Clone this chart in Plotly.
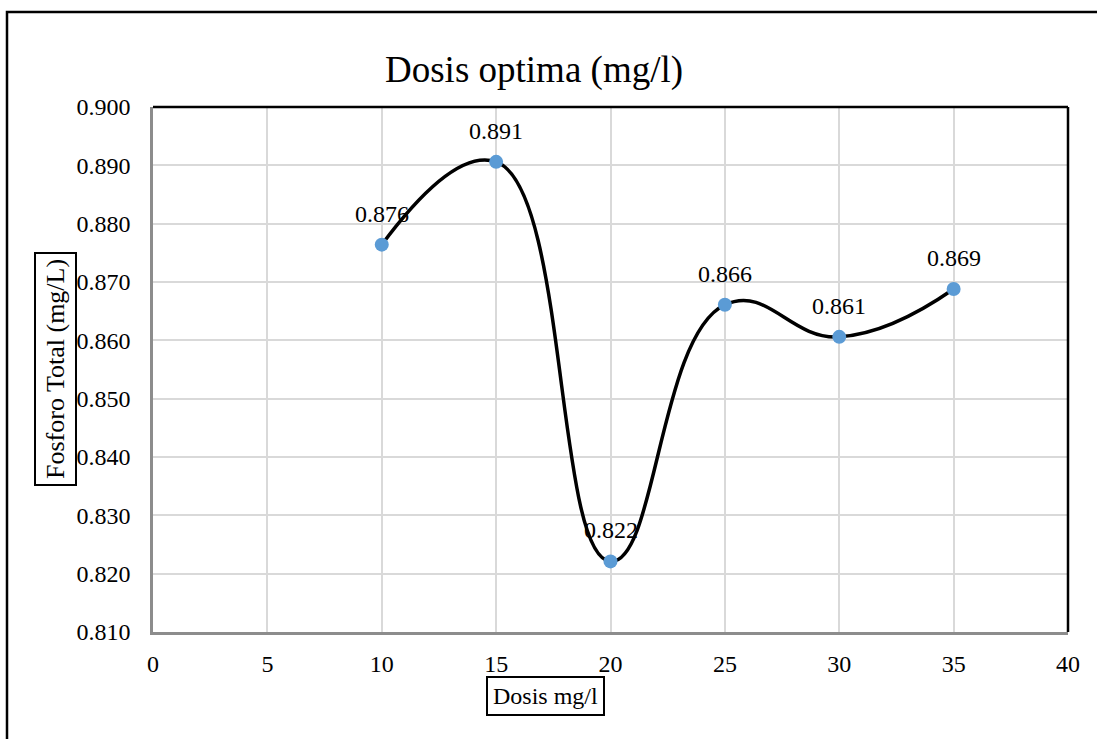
import plotly.graph_objects as go

# Data
dosis = [10, 15, 20, 25, 30, 35]
fosforo = [0.8764, 0.8906, 0.8221, 0.8661, 0.8606, 0.8688]
x_ticks = [0, 5, 10, 15, 20, 25, 30, 35, 40]
y_ticks = [0.81, 0.82, 0.83, 0.84, 0.85, 0.86, 0.87, 0.88, 0.89, 0.90]

title_text = "Dosis optima (mg/l)"
x_title = "Dosis mg/l"
y_title = "Fosforo Total (mg/L)"

FONT = "Liberation Serif, Times New Roman, serif"
W, H = 1097, 739
L, R, T, B = 153, 29, 107, 107
pw, ph = W - L - R, H - T - B

def px_x(p):
    return (p - L) / pw

def px_y(p):
    return (H - B - p) / ph

fig = go.Figure()
fig.add_trace(go.Scatter(
    x=dosis, y=fosforo, mode="lines",
    line=dict(color="black", width=3.5, shape="spline", smoothing=1.3),
    hoverinfo="skip", showlegend=False,
))
fig.add_trace(go.Scatter(
    x=dosis, y=fosforo, mode="markers",
    marker=dict(color="#5B9BD5", size=14, line=dict(width=0)),
    showlegend=False,
))

annotations = []
for xv, yv in zip(dosis, fosforo):
    annotations.append(dict(
        x=xv, y=yv, xref="x", yref="y", text=f"{yv:.3f}", showarrow=False,
        yanchor="middle", yshift=31, font=dict(family=FONT, size=24, color="black"),
    ))

annotations.append(dict(
    x=px_x(534), y=px_y(70), xref="paper", yref="paper", text=title_text,
    showarrow=False, xanchor="center", yanchor="middle",
    font=dict(family=FONT, size=37, color="black"),
))
annotations.append(dict(
    x=px_x(545), y=px_y(696), xref="paper", yref="paper", text=x_title,
    showarrow=False, xanchor="center", yanchor="middle",
    font=dict(family=FONT, size=24, color="black"),
    bordercolor="black", borderwidth=2, borderpad=5,
))
annotations.append(dict(
    x=px_x(55), y=px_y(369), xref="paper", yref="paper", text=y_title,
    showarrow=False, xanchor="center", yanchor="middle", textangle=-90,
    font=dict(family=FONT, size=26, color="black"),
    bordercolor="black", borderwidth=2, borderpad=5,
))

shapes = [
    # outer chart border
    dict(type="rect", xref="paper", yref="paper",
         x0=px_x(7), x1=px_x(1110), y0=px_y(750), y1=px_y(12),
         line=dict(color="black", width=2.5), layer="below"),
    # top and right plot borders (black)
    dict(type="line", xref="paper", yref="paper", x0=0, x1=1, y0=1, y1=1,
         line=dict(color="black", width=2.5)),
    dict(type="line", xref="paper", yref="paper", x0=1, x1=1, y0=0, y1=1,
         line=dict(color="black", width=2.5)),
]

fig.update_layout(
    width=W, height=H,
    margin=dict(l=L, r=R, t=T, b=B),
    paper_bgcolor="white", plot_bgcolor="white",
    font=dict(family=FONT, size=24, color="black"),
    annotations=annotations, shapes=shapes,
    xaxis=dict(
        range=[0, 40], tickvals=x_ticks, ticktext=[str(v) for v in x_ticks],
        showgrid=True, gridcolor="#D9D9D9", gridwidth=1.5,
        showline=True, linecolor="#8C8C8C", linewidth=2.5,
        zeroline=False, ticks="", ticklabelstandoff=8,
        tickfont=dict(family=FONT, size=24, color="black"),
    ),
    yaxis=dict(
        range=[0.81, 0.90], tickvals=y_ticks, ticktext=[f"{v:.3f}" for v in y_ticks],
        showgrid=True, gridcolor="#D9D9D9", gridwidth=1.5,
        showline=True, linecolor="#8C8C8C", linewidth=2.5,
        zeroline=False, ticks="", ticklabelstandoff=15,
        tickfont=dict(family=FONT, size=24, color="black"),
    ),
)

fig.write_html("out.html")
